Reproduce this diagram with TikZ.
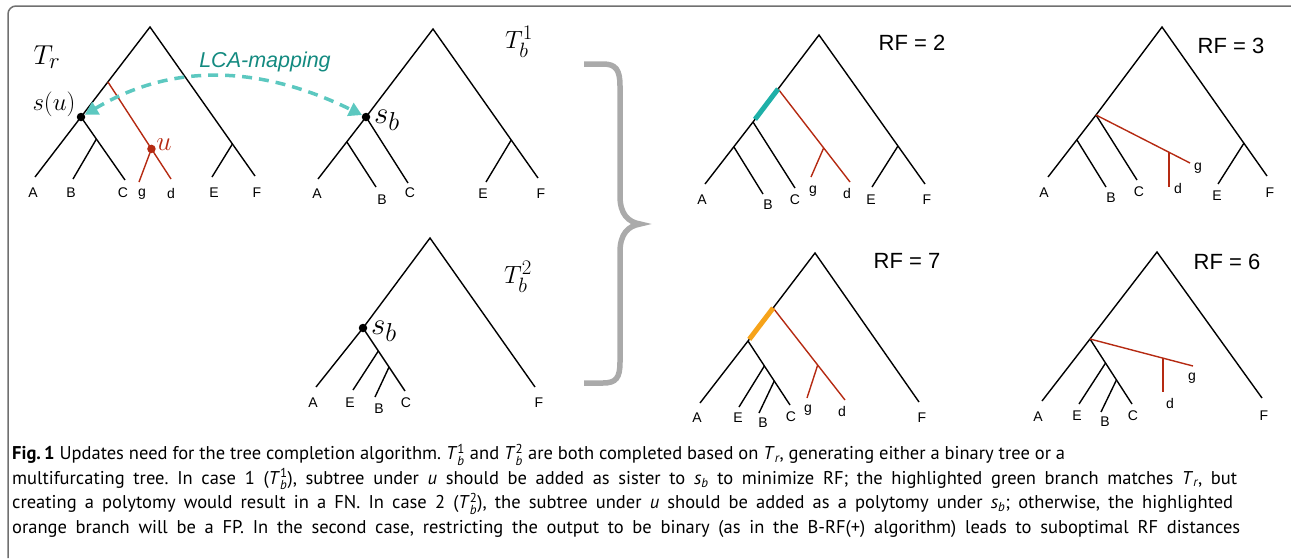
\documentclass[tikz,border=0pt]{standalone}
\usepackage{amsmath}
\usepackage[no-math]{fontspec}
\setmainfont{PT Sans}
\newfontfamily\arialf{Liberation Sans}
\usetikzlibrary{calc,arrows.meta}
\definecolor{treered}{HTML}{B52A12}
\definecolor{lcateal}{HTML}{5CC8C0}
\definecolor{lcatext}{HTML}{138A80}
\definecolor{hlgreen}{HTML}{1EB0A8}
\definecolor{hlorange}{HTML}{F6A31A}
\definecolor{bracegray}{HTML}{AAAAAA}
\definecolor{framegray}{HTML}{707070}
\newcommand\capT[2]{\textit{T}$^{\text{#1}}_{\text{\itshape #2}}$}
\newcommand\capTr{\textit{T}$_{\text{\itshape r}}$}
\newcommand\capsb{\textit{s}$_{\text{\itshape b}}$}
\frenchspacing
\begin{document}
\begin{tikzpicture}[x=1pt,y=-1pt,
 edge/.style={line width=1.4pt, black},
 redge/.style={line width=1.4pt, treered},
 leaf/.style={font=\arialf\fontsize{14}{15}\selectfont, inner sep=0pt},
 rf/.style={font=\arialf\fontsize{22}{24}\selectfont, inner sep=0pt},
 mathlab/.style={font=\fontsize{24.88}{26}\selectfont, inner sep=0pt},
 biglab/.style={font=\fontsize{24.88}{26}\selectfont, inner sep=0pt, scale=1.1, transform shape},
 sblab/.style={font=\fontsize{24.88}{26}\selectfont, inner sep=0pt, scale=1.25, transform shape},
 dot/.style={circle, fill=black, inner sep=0pt, minimum size=8.5pt},
 rdot/.style={circle, fill=treered, inner sep=0pt, minimum size=8.5pt},
 lca/.style={lcateal, line width=3.5pt, dash pattern=on 10pt off 7pt,
   {Triangle[length=13pt,width=14pt]}-{Triangle[length=13pt,width=14pt]}},
 hl/.style={line width=5pt}
]
\useasboundingbox (0,0) rectangle (1291,558);
% frame
\draw[framegray, line width=1.5pt, rounded corners=8pt] (8,558) -- (8,6) -- (1291,6);

% ===== T_r =====
\coordinate (Tr-R) at (150,27);
\coordinate (Tr-sc) at (81,117);
\coordinate (Tr-A) at (35,177);
\coordinate (Tr-C) at (125,180);
\coordinate (Tr-jB) at ($(Tr-sc)!0.35!(Tr-C)$);
\coordinate (Tr-B) at (73,179);
\coordinate (Tr-F) at (255,176);
\coordinate (Tr-jE) at ($(Tr-R)!0.785!(Tr-F)$);
\coordinate (Tr-E) at (212,177);
\coordinate (Tr-jr) at ($(Tr-R)!0.61!(Tr-sc)$);
\coordinate (Tr-d) at (171,179);
\coordinate (Tr-uc) at ($(Tr-jr)!0.69!(Tr-d)$);
\coordinate (Tr-g) at (139,182);
\draw[edge] (Tr-A) -- (Tr-sc) -- (Tr-R) -- (Tr-F);
\draw[edge] (Tr-sc) -- (Tr-C);
\draw[edge] (Tr-jB) -- (Tr-B);
\draw[edge] (Tr-jE) -- (Tr-E);
\draw[redge] (Tr-jr) -- (Tr-d);
\draw[redge] (Tr-uc) -- (Tr-g);
\node[dot] (Tr-s) at (Tr-sc) {};
\node[rdot] (Tr-u) at (Tr-uc) {};
\node[biglab] (Tr-lab) at (47,57) {$T_r$};
\node[mathlab] (Tr-slab) at (54,104) {$s(u)$};
\node[biglab, text=treered] (Tr-ulab) at (164,145) {$u$};
\node[leaf] (Tr-lA) at (33,193) {A};
\node[leaf] (Tr-lB) at (71,193) {B};
\node[leaf] (Tr-lC) at (123,193) {C};
\node[leaf] (Tr-lg) at (142,194) {g};
\node[leaf] (Tr-ld) at (171,193) {d};
\node[leaf] (Tr-lE) at (214,193) {E};
\node[leaf] (Tr-lF) at (257,193) {F};

% ===== T_b^1 =====
\coordinate (Tb1-R) at (433,29);
\coordinate (Tb1-sc) at (366,117);
\coordinate (Tb1-A) at (318,179);
\coordinate (Tb1-jB) at ($(Tb1-sc)!0.40!(Tb1-A)$);
\coordinate (Tb1-B) at (376,187);
\coordinate (Tb1-C) at (408,183);
\coordinate (Tb1-F) at (538,178);
\coordinate (Tb1-jE) at ($(Tb1-R)!0.745!(Tb1-F)$);
\coordinate (Tb1-E) at (486,182);
\draw[edge] (Tb1-A) -- (Tb1-sc) -- (Tb1-R) -- (Tb1-F);
\draw[edge] (Tb1-sc) -- (Tb1-C);
\draw[edge] (Tb1-jB) -- (Tb1-B);
\draw[edge] (Tb1-jE) -- (Tb1-E);
\node[dot] (Tb1-s) at (Tb1-sc) {};
\node[mathlab] (Tb1-lab) at (519,42) {$T_b^1$};
\node[sblab] (Tb1-slab) at (387,120) {$s_b$};
\node[leaf] (Tb1-lA) at (317,194) {A};
\node[leaf] (Tb1-lB) at (382,200) {B};
\node[leaf] (Tb1-lC) at (410,193) {C};
\node[leaf] (Tb1-lE) at (483,194) {E};
\node[leaf] (Tb1-lF) at (541,194) {F};

% LCA mapping arrow
\draw[lca] (Tr-s) .. controls (180,58) and (270,70) .. (Tb1-s);
\node[font=\arialf\itshape\fontsize{21.5}{23}\selectfont, text=lcatext, inner sep=0pt] (lcalab) at (265,62) {LCA-mapping};

% ===== T_b^2 =====
\coordinate (Tb2-R) at (430,238);
\coordinate (Tb2-sc) at (363,328);
\coordinate (Tb2-A) at (316,387);
\coordinate (Tb2-C) at (405,391);
\coordinate (Tb2-jE) at ($(Tb2-sc)!0.365!(Tb2-C)$);
\coordinate (Tb2-E) at (353,390);
\coordinate (Tb2-jB) at ($(Tb2-sc)!0.62!(Tb2-C)$);
\coordinate (Tb2-B) at (375,397);
\coordinate (Tb2-F) at (535,387);
\draw[edge] (Tb2-A) -- (Tb2-sc) -- (Tb2-R) -- (Tb2-F);
\draw[edge] (Tb2-sc) -- (Tb2-C);
\draw[edge] (Tb2-jE) -- (Tb2-E);
\draw[edge] (Tb2-jB) -- (Tb2-B);
\node[dot] (Tb2-s) at (Tb2-sc) {};
\node[mathlab] (Tb2-lab) at (518,277) {$T_b^2$};
\node[sblab] (Tb2-slab) at (384,331) {$s_b$};
\node[leaf] (Tb2-lA) at (313,403) {A};
\node[leaf] (Tb2-lE) at (350,403) {E};
\node[leaf] (Tb2-lB) at (379,409) {B};
\node[leaf] (Tb2-lC) at (406,403) {C};
\node[leaf] (Tb2-lF) at (539,403) {F};

% ===== brace =====
\draw[bracegray, line width=5.5pt] (584,64) -- (603,64)
  .. controls (616,64) and (620,70) .. (620,86) -- (620,196)
  .. controls (620,214) and (628,222) .. (640,224)
  .. controls (628,226) and (620,234) .. (620,252) -- (620,362)
  .. controls (620,378) and (616,383) .. (603,383) -- (584,383);

% ===== RF = 2 =====
\coordinate (R2-R) at (819,35);
\coordinate (R2-n) at (753,122);
\coordinate (R2-jr) at ($(R2-R)!0.62!(R2-n)$);
\coordinate (R2-A) at (705,184);
\coordinate (R2-jB) at ($(R2-n)!0.40!(R2-A)$);
\coordinate (R2-B) at (763,194);
\coordinate (R2-C) at (795,188);
\coordinate (R2-d) at (850,182);
\coordinate (R2-jg) at ($(R2-jr)!0.634!(R2-d)$);
\coordinate (R2-g) at (811,177);
\coordinate (R2-F) at (925,184);
\coordinate (R2-jE) at ($(R2-R)!0.745!(R2-F)$);
\coordinate (R2-E) at (872,187);
\draw[edge] (R2-A) -- (R2-n) -- (R2-R) -- (R2-F);
\draw[edge] (R2-n) -- (R2-C);
\draw[edge] (R2-jB) -- (R2-B);
\draw[edge] (R2-jE) -- (R2-E);
\draw[redge] (R2-jr) -- (R2-d);
\draw[redge] (R2-jg) -- (R2-g);
\draw[hl, hlgreen] (R2-jr) -- ($(R2-jr)!0.92!(R2-n)$);
\node[rf] (R2-lab) at (912,43) {RF = 2};
\node[leaf] (R2-lA) at (702,200) {A};
\node[leaf] (R2-lB) at (768,205) {B};
\node[leaf] (R2-lC) at (795,200) {C};
\node[leaf] (R2-lg) at (813,191) {g};
\node[leaf] (R2-ld) at (847,193) {d};
\node[leaf] (R2-lE) at (871,200) {E};
\node[leaf] (R2-lF) at (927,200) {F};

% ===== RF = 3 =====
\coordinate (R3-R) at (1162,27);
\coordinate (R3-n) at (1096,115);
\coordinate (R3-A) at (1048,177);
\coordinate (R3-jB) at ($(R3-n)!0.40!(R3-A)$);
\coordinate (R3-B) at (1106,187);
\coordinate (R3-C) at (1137,180);
\coordinate (R3-g) at (1190,163);
\coordinate (R3-jd) at ($(R3-n)!0.777!(R3-g)$);
\coordinate (R3-d) at (1169,187);
\coordinate (R3-F) at (1267,176);
\coordinate (R3-jE) at ($(R3-R)!0.78!(R3-F)$);
\coordinate (R3-E) at (1218,184);
\draw[edge] (R3-A) -- (R3-n) -- (R3-R) -- (R3-F);
\draw[edge] (R3-n) -- (R3-C);
\draw[edge] (R3-jB) -- (R3-B);
\draw[edge] (R3-jE) -- (R3-E);
\draw[redge] (R3-n) -- (R3-g);
\draw[redge] (R3-jd) -- (R3-jd |- R3-d);
\node[rf] (R3-lab) at (1231,46) {RF = 3};
\node[leaf] (R3-lA) at (1044,193) {A};
\node[leaf] (R3-lB) at (1111,198) {B};
\node[leaf] (R3-lC) at (1139,192) {C};
\node[leaf] (R3-ld) at (1178,188) {d};
\node[leaf] (R3-lg) at (1198,168) {g};
\node[leaf] (R3-lE) at (1217,196) {E};
\node[leaf] (R3-lF) at (1270,193) {F};

% ===== RF = 7 =====
\coordinate (R7-R) at (815,253);
\coordinate (R7-n) at (748,341);
\coordinate (R7-jr) at ($(R7-R)!0.625!(R7-n)$);
\coordinate (R7-A) at (700,403);
\coordinate (R7-C) at (790,405);
\coordinate (R7-jE) at ($(R7-n)!0.39!(R7-C)$);
\coordinate (R7-E) at (739,407);
\coordinate (R7-jB) at ($(R7-n)!0.625!(R7-C)$);
\coordinate (R7-B) at (759,413);
\coordinate (R7-d) at (845,400);
\coordinate (R7-jg) at ($(R7-jr)!0.62!(R7-d)$);
\coordinate (R7-g) at (807,398);
\coordinate (R7-F) at (919,402);
\draw[edge] (R7-A) -- (R7-n) -- (R7-R) -- (R7-F);
\draw[edge] (R7-n) -- (R7-C);
\draw[edge] (R7-jE) -- (R7-E);
\draw[edge] (R7-jB) -- (R7-B);
\draw[redge] (R7-jr) -- (R7-d);
\draw[redge] (R7-jg) -- (R7-g);
\draw[hl, hlorange] (R7-jr) -- ($(R7-jr)!0.95!(R7-n)$);
\node[rf] (R7-lab) at (907,261) {RF = 7};
\node[leaf] (R7-lA) at (697,418) {A};
\node[leaf] (R7-lE) at (738,418) {E};
\node[leaf] (R7-lB) at (763,423) {B};
\node[leaf] (R7-lC) at (791,417) {C};
\node[leaf] (R7-lg) at (808,410) {g};
\node[leaf] (R7-ld) at (842,411) {d};
\node[leaf] (R7-lF) at (922,418) {F};

% ===== RF = 6 =====
\coordinate (R6-R) at (1157,252);
\coordinate (R6-n) at (1090,339);
\coordinate (R6-A) at (1042,401);
\coordinate (R6-C) at (1132,404);
\coordinate (R6-jE) at ($(R6-n)!0.37!(R6-C)$);
\coordinate (R6-E) at (1079,404);
\coordinate (R6-jB) at ($(R6-n)!0.63!(R6-C)$);
\coordinate (R6-B) at (1101,412);
\coordinate (R6-g) at (1193,366);
\coordinate (R6-jd) at ($(R6-n)!0.709!(R6-g)$);
\coordinate (R6-d) at (1163,392);
\coordinate (R6-F) at (1262,398);
\draw[edge] (R6-A) -- (R6-n) -- (R6-R) -- (R6-F);
\draw[edge] (R6-n) -- (R6-C);
\draw[edge] (R6-jE) -- (R6-E);
\draw[edge] (R6-jB) -- (R6-B);
\draw[redge] (R6-n) -- (R6-g);
\draw[redge] (R6-jd) -- (R6-jd |- R6-d);
\node[rf] (R6-lab) at (1227,262) {RF = 6};
\node[leaf] (R6-lA) at (1038,417) {A};
\node[leaf] (R6-lE) at (1077,416) {E};
\node[leaf] (R6-lB) at (1105,422) {B};
\node[leaf] (R6-lC) at (1133,416) {C};
\node[leaf] (R6-lg) at (1192,378) {g};
\node[leaf] (R6-ld) at (1170,403) {d};
\node[leaf] (R6-lF) at (1264,416) {F};

% ===== caption =====
\node[anchor=north west, align=left, inner sep=0pt,
      font=\fontsize{18.5}{24.5}\selectfont\frenchspacing] (caption) at (12,444) {%
{\bfseries Fig.\,1} Updates need for the tree completion algorithm. \capT{1}{b} and \capT{2}{b} are both completed based on \capTr, generating either a binary tree or a\\
\makebox[1225pt][s]{multifurcating tree. In case 1 (\capT{1}{b}), subtree under \textit{u} should be added as sister to \capsb{} to minimize RF; the highlighted green branch matches \capTr, but}\\
\makebox[1221pt][s]{creating a polytomy would result in a FN. In case 2 (\capT{2}{b}), the subtree under \textit{u} should be added as a polytomy under \capsb; otherwise, the highlighted}\\
\makebox[1228pt][s]{orange branch will be a FP. In the second case, restricting the output to be binary (as in the B-RF(+) algorithm) leads to suboptimal RF distances}};
\end{tikzpicture}
\end{document}
